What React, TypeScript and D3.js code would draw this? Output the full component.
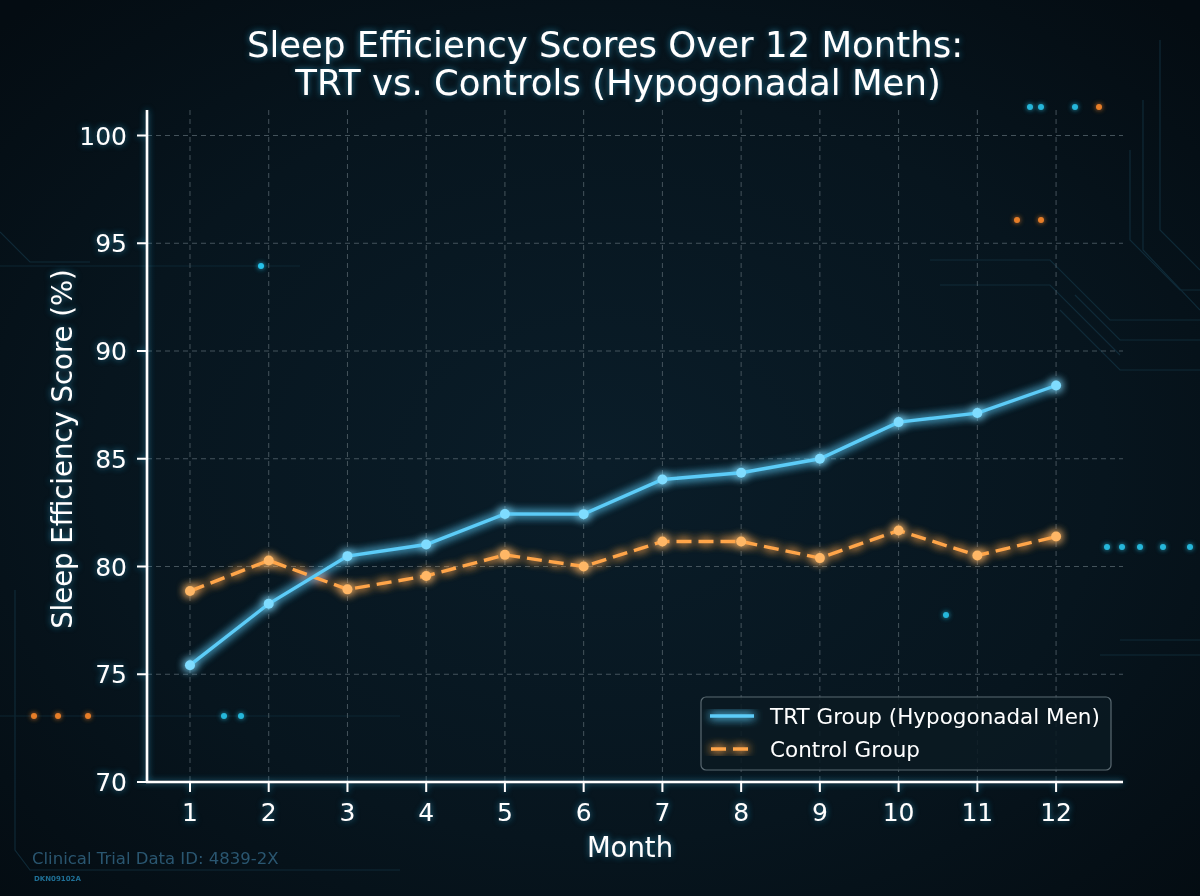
import React from 'react';
import * as d3 from 'd3';

// Data
const months = [1, 2, 3, 4, 5, 6, 7, 8, 9, 10, 11, 12];
const trtScores = [75.42, 78.27, 80.48, 81.02, 82.44, 82.43, 84.04, 84.35, 85.0, 86.7, 87.12, 88.4];
const controlScores = [78.86, 80.28, 78.94, 79.56, 80.54, 80.0, 81.16, 81.16, 80.39, 81.67, 80.51, 81.39];
const yTicks = [70, 75, 80, 85, 90, 95, 100];

const titleLines = ['Sleep Efficiency Scores Over 12 Months:', 'TRT vs. Controls (Hypogonadal Men)'];
const trtLabel = 'TRT Group (Hypogonadal Men)';
const controlLabel = 'Control Group';

// background decoration dots [x, y, colour]
const decorDots: [number, number, string][] = [
  [261, 266, '#29d3ff'],
  [1030, 107, '#29c8ee'],
  [1041, 107, '#29c8ee'],
  [1075, 107, '#29c8ee'],
  [1099, 107, '#ff8a2a'],
  [1017, 220, '#ff8a2a'],
  [1041, 220, '#ff8a2a'],
  [34, 716, '#ff8a2a'],
  [58, 716, '#ff8a2a'],
  [88, 716, '#ff8a2a'],
  [224, 716, '#29c8ee'],
  [241, 716, '#29c8ee'],
  [946, 615, '#29c8ee'],
  [1107, 547, '#29c8ee'],
  [1122, 547, '#29c8ee'],
  [1140, 547, '#29c8ee'],
  [1163, 547, '#29c8ee'],
  [1190, 547, '#29c8ee'],
];

const W = 1200;
const H = 896;
const plot = { left: 147, right: 1123, top: 110, bottom: 782 };
const FONT = 'DejaVu Sans, sans-serif';
const TRT_COLOR = '#5cccf8';
const CTRL_COLOR = '#ffa54a';

export default function App() {
  const x = d3.scaleLinear().domain([0.454, 12.85]).range([plot.left, plot.right]);
  const y = d3.scaleLinear().domain([70, 70 + (plot.bottom - plot.top) / 21.55]).range([plot.bottom, plot.top]);

  const line = d3
    .line<number>()
    .x((_, i) => x(months[i]))
    .y((d) => y(d));

  return (
    <div style={{ position: 'absolute', left: 0, top: 0, width: W, height: H, overflow: 'hidden' }}>
      <svg width={W} height={H} style={{ display: 'block', fontFamily: FONT }}>
        <defs>
          <radialGradient id="bg" cx="50%" cy="52%" r="70%">
            <stop offset="0%" stopColor="#0a1d29" />
            <stop offset="60%" stopColor="#07151e" />
            <stop offset="100%" stopColor="#040c12" />
          </radialGradient>
          <filter id="glow" x="-20%" y="-20%" width="140%" height="140%">
            <feGaussianBlur stdDeviation="5" result="b" />
            <feMerge>
              <feMergeNode in="b" />
              <feMergeNode in="b" />
              <feMergeNode in="SourceGraphic" />
            </feMerge>
          </filter>
          <filter id="textGlow" x="-10%" y="-30%" width="120%" height="160%">
            <feGaussianBlur stdDeviation="3" result="b" />
            <feFlood floodColor="#2fb8e8" floodOpacity="0.6" />
            <feComposite in2="b" operator="in" result="c" />
            <feMerge>
              <feMergeNode in="c" />
              <feMergeNode in="SourceGraphic" />
            </feMerge>
          </filter>
          <filter id="dotGlow" x="-200%" y="-200%" width="500%" height="500%">
            <feGaussianBlur stdDeviation="2.5" result="b" />
            <feMerge>
              <feMergeNode in="b" />
              <feMergeNode in="SourceGraphic" />
            </feMerge>
          </filter>
        </defs>

        <rect width={W} height={H} fill="url(#bg)" />

        {/* faint circuit traces */}
        <g stroke="#12303f" strokeWidth={1.2} fill="none" opacity={0.8}>
          <path d="M1130 150 L1130 240 L1180 290 L1200 290" />
          <path d="M1143 100 L1143 250 L1200 310" />
          <path d="M1160 40 L1160 230 L1200 270" />
          <path d="M1075 295 L1120 340 L1200 340" />
          <path d="M1060 310 L1120 370 L1200 370" />
          <path d="M930 260 L1050 260 L1110 320 L1200 320" />
          <path d="M940 285 L1050 285 L1120 355" />
          <path d="M0 232 L30 262 L90 262" />
          <path d="M15 590 L15 850 L30 870 L400 870" />
          <path d="M0 716 L400 716" stroke="#0f2a38" />
          <path d="M0 266 L300 266" stroke="#0f2a38" />
          <path d="M1120 640 L1200 640" />
          <path d="M1100 655 L1200 655" />
        </g>
        <g filter="url(#dotGlow)">
          {decorDots.map(([dx, dy, c], i) => (
            <circle key={i} cx={dx} cy={dy} r={3} fill={c} opacity={0.85} />
          ))}
        </g>

        {/* grid */}
        <g stroke="#5a6870" strokeWidth={1} strokeDasharray="5,4" opacity={0.75}>
          {months.map((m) => (
            <line key={m} x1={x(m)} x2={x(m)} y1={plot.top} y2={plot.bottom} />
          ))}
          {yTicks.map((t) => (
            <line key={t} x1={plot.left} x2={plot.right} y1={y(t)} y2={y(t)} />
          ))}
        </g>

        {/* spines and ticks */}
        <g stroke="#ffffff" strokeWidth={2.6} filter="url(#textGlow)">
          <line x1={plot.left} x2={plot.left} y1={plot.top} y2={plot.bottom + 1} />
          <line x1={plot.left - 1} x2={plot.right} y1={plot.bottom} y2={plot.bottom} />
          {yTicks.map((t) => (
            <line key={t} x1={plot.left - 10} x2={plot.left} y1={y(t)} y2={y(t)} strokeWidth={2} />
          ))}
          {months.map((m) => (
            <line key={m} x1={x(m)} x2={x(m)} y1={plot.bottom} y2={plot.bottom + 10} strokeWidth={2} />
          ))}
        </g>

        {/* tick labels */}
        <g fill="#ffffff" fontSize={25} filter="url(#textGlow)">
          {yTicks.map((t) => (
            <text key={t} x={plot.left - 20} y={y(t)} dy="0.36em" textAnchor="end">
              {t}
            </text>
          ))}
          {months.map((m) => (
            <text key={m} x={x(m)} y={plot.bottom + 39} textAnchor="middle">
              {m}
            </text>
          ))}
        </g>

        {/* axis labels */}
        <g fill="#ffffff" fontSize={27.5} filter="url(#textGlow)">
          <text x={(plot.left + plot.right) / 2 - 5} y={857} textAnchor="middle">
            Month
          </text>
          <text transform={`translate(72, ${(plot.top + plot.bottom) / 2 + 3}) rotate(-90)`} textAnchor="middle">
            Sleep Efficiency Score (%)
          </text>
        </g>

        {/* title */}
        <g fill="#ffffff" fontSize={35.5} filter="url(#textGlow)" textAnchor="middle">
          <text x={605} y={57}>{titleLines[0]}</text>
          <text x={618} y={95}>{titleLines[1]}</text>
        </g>

        {/* series */}
        <g filter="url(#glow)">
          <path d={line(controlScores) ?? ''} fill="none" stroke={CTRL_COLOR} strokeWidth={3.4} strokeDasharray="15,7" />
          {controlScores.map((v, i) => (
            <circle key={i} cx={x(months[i])} cy={y(v)} r={5} fill="#ffb766" />
          ))}
          <path d={line(trtScores) ?? ''} fill="none" stroke={TRT_COLOR} strokeWidth={3.4} />
          {trtScores.map((v, i) => (
            <circle key={i} cx={x(months[i])} cy={y(v)} r={5} fill="#7fdcff" />
          ))}
        </g>

        {/* legend */}
        <g>
          <rect x={701} y={697} width={410} height={73} rx={5} fill="#0b1a22" fillOpacity={0.85} stroke="#5b6a72" strokeWidth={1.2} />
          <g filter="url(#glow)">
            <line x1={710} x2={754} y1={716} y2={716} stroke={TRT_COLOR} strokeWidth={3.4} />
            <line x1={711} x2={754} y1={749} y2={749} stroke={CTRL_COLOR} strokeWidth={3.4} strokeDasharray="15,7" />
          </g>
          <g fill="#ffffff" fontSize={21.5}>
            <text x={770} y={724}>{trtLabel}</text>
            <text x={770} y={757}>{controlLabel}</text>
          </g>
        </g>

        {/* watermark */}
        <text x={32} y={864} fill="#2a5670" fontSize={16.5}>
          Clinical Trial Data ID: 4839-2X
        </text>
        <text x={34} y={881} fill="#1f6f95" fontSize={7} fontWeight="bold">
          DKN09102A
        </text>
      </svg>
    </div>
  );
}
